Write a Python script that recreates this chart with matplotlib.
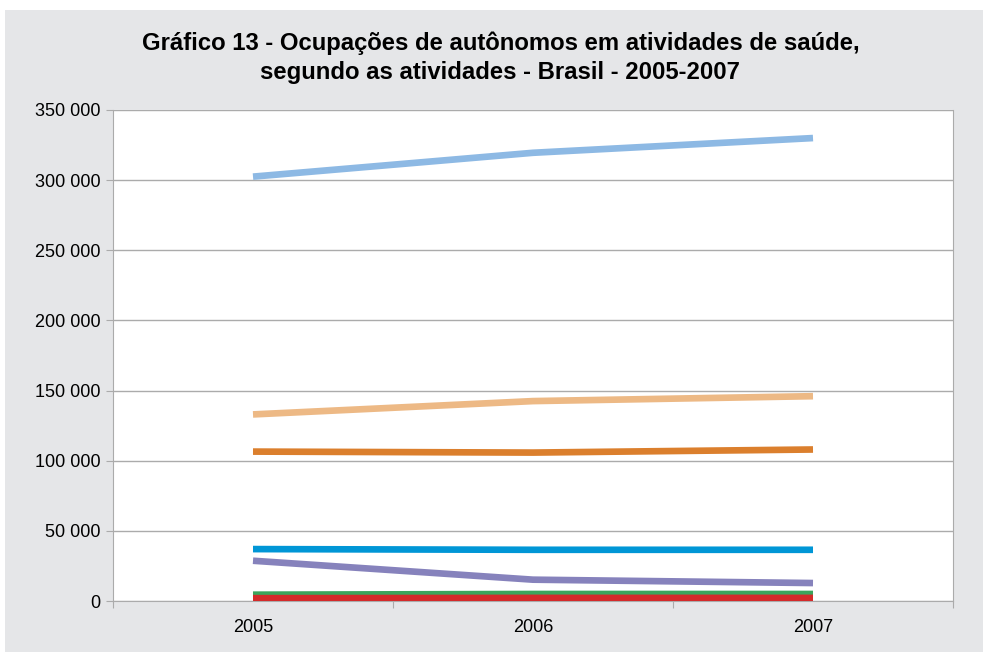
import matplotlib.pyplot as plt
from matplotlib.patches import Rectangle
from matplotlib.ticker import FuncFormatter

plt.rcParams["font.family"] = ["Liberation Sans", "DejaVu Sans"]

years = ["2005", "2006", "2007"]
light_blue = [302500, 319500, 330000]
light_orange = [133000, 142500, 146000]
orange = [106500, 105800, 108000]
blue = [37000, 36500, 36500]
purple = [28700, 15200, 12800]
green = [4500, 5000, 5000]
red = [2000, 2200, 2200]

series = [
    (light_blue, "#8DB9E4"),
    (light_orange, "#EDB985"),
    (orange, "#DB7F2D"),
    (blue, "#0096D6"),
    (purple, "#8682BC"),
    (green, "#3BA55C"),
    (red, "#D42A2A"),
]

fig = plt.figure(figsize=(9.85, 6.52), dpi=100, facecolor="white")
fig.patches.append(Rectangle((5 / 985, 0), 978 / 985, 642 / 652,
                             transform=fig.transFigure, facecolor="#E5E6E8",
                             edgecolor="none", zorder=-10))

ax = fig.add_axes([113 / 985, 1 - 601 / 652, 840 / 985, 491 / 652])
ax.set_facecolor("white")

x = list(range(len(years)))
for vals, col in series:
    ax.plot(x, vals, color=col, lw=4.8, solid_capstyle="butt", zorder=3)

ax.set_xlim(-0.5, 2.5)
ax.set_ylim(0, 350000)
ax.set_yticks(range(0, 350001, 50000))
ax.yaxis.set_major_formatter(FuncFormatter(lambda v, p: f"{int(v):,}".replace(",", " ")))
ax.set_xticks([-0.5, 0.5, 1.5, 2.5])
ax.set_xticklabels([])
ax.set_xticks(x, minor=True)
ax.set_xticklabels(years, minor=True)
ax.tick_params(axis="x", which="major", length=5, color="#ABABAB")
ax.tick_params(axis="x", which="minor", length=0, pad=13, labelsize=13)
ax.tick_params(axis="y", length=5, color="#ABABAB", labelsize=13, pad=4)
ax.grid(axis="y", color="#ABABAB", lw=1)
for s in ax.spines.values():
    s.set_color("#ABABAB")
ax.spines["top"].set_visible(False)

fig.text(0.508, 1 - 43 / 652, "Gráfico 13 - Ocupações de autônomos em atividades de saúde,",
         ha="center", va="center", fontsize=17.2, fontweight="bold")
fig.text(0.508, 1 - 72 / 652, "segundo as atividades - Brasil - 2005-2007",
         ha="center", va="center", fontsize=17.2, fontweight="bold")

fig.savefig("out.png", dpi=100)
